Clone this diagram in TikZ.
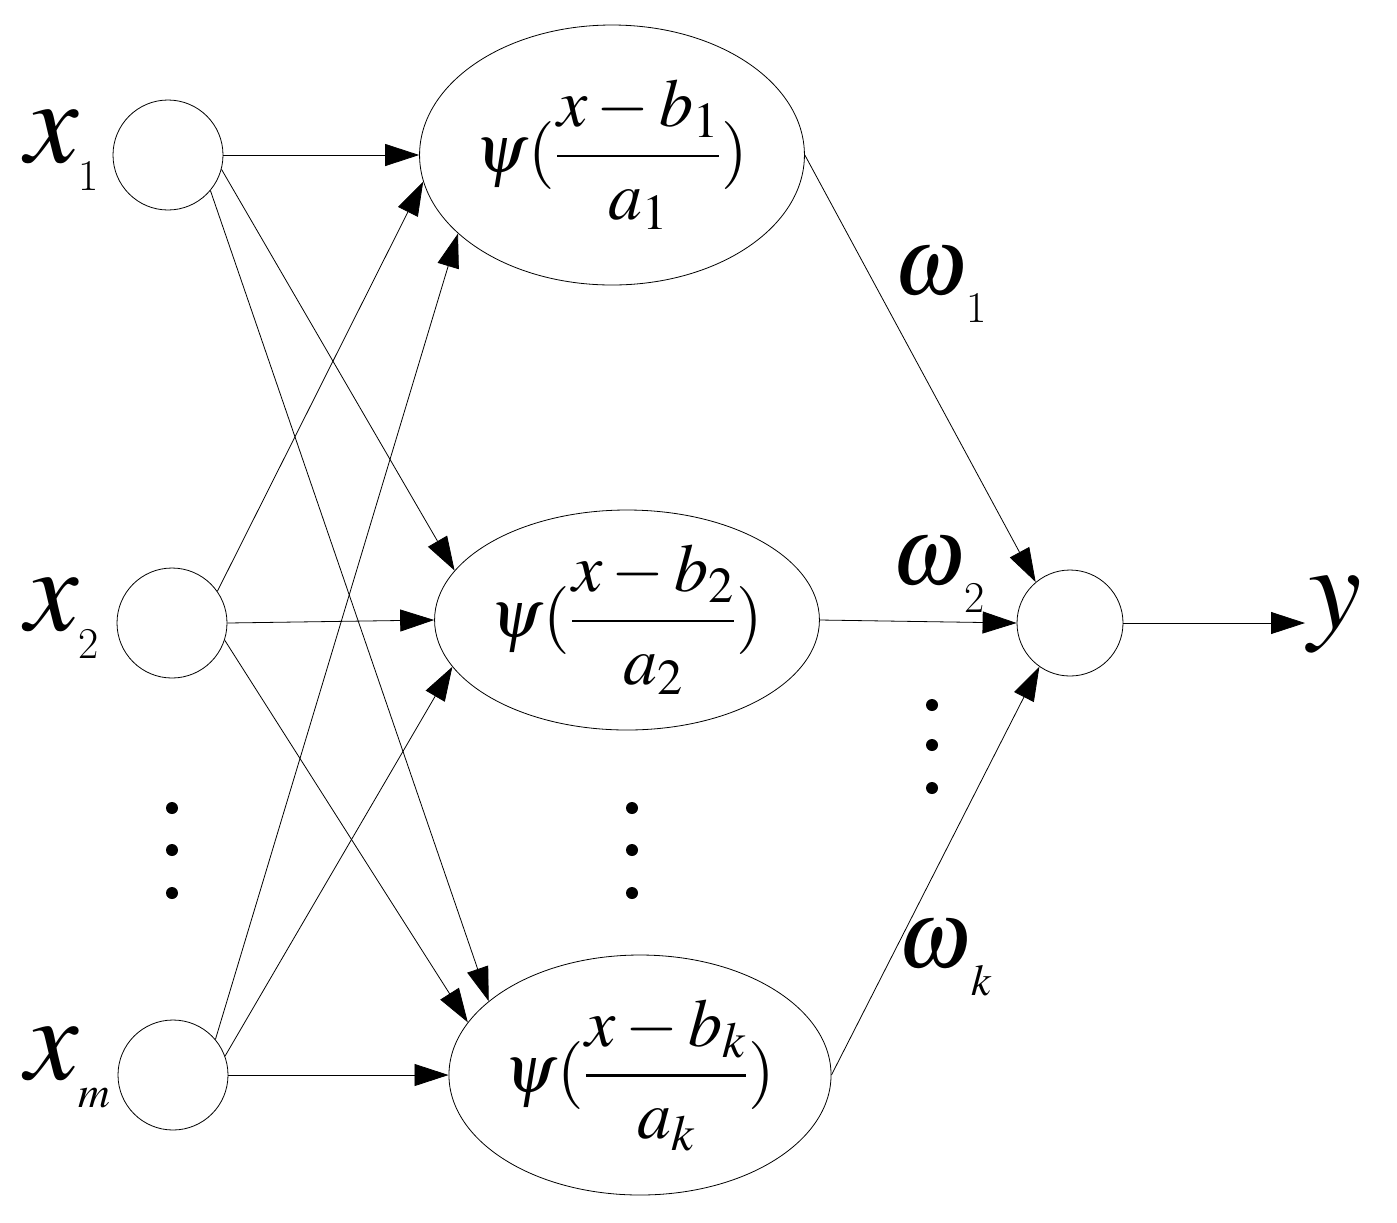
\documentclass[tikz,border=0pt]{standalone}
\usepackage{mathptmx}
\usetikzlibrary{arrows.meta,shapes.geometric}
\newcommand{\lab}[2]{$#1$\raisebox{-14pt}{\fontsize{22}{24}\selectfont #2}}
\begin{document}
\begin{tikzpicture}[x=0.5pt,y=-0.5pt,
 circ/.style={draw,circle,minimum size=55pt,inner sep=0pt},
 ell/.style={draw,ellipse,minimum width=178pt,inner sep=0pt},
 arr/.style={-{Triangle[length=17pt,width=11pt]},line width=0.4pt},
 big/.style={font=\fontsize{60}{66}\selectfont},
 om/.style={font=\fontsize{48}{54}\selectfont},
 mid/.style={font=\fontsize{34}{40}\selectfont}]
\useasboundingbox (0,0) rectangle (1397,1222);
\node[circ] (x1) at (168,155) {};
\node[circ] (x2) at (172,623) {};
\node[circ] (xm) at (173,1075) {};
\node[ell,minimum height=130pt,mid] (e1) at (612,155) {$\displaystyle\psi(\frac{x-b_1}{a_1})$};
\node[ell,minimum height=110pt,mid] (e2) at (627,620) {$\displaystyle\psi(\frac{x-b_2}{a_2})$};
\node[ell,minimum height=120pt,mid] (ek) at (640,1075) {$\displaystyle\psi(\frac{x-b_k}{a_k})$};
\node[circ,minimum size=53pt] (o) at (1070,623) {};
\coordinate (yend) at (1305,623);
\node[big] (yl) at (1335,615) {$y$};
\node[big] (l1) at (62,150) {\lab{x}{1}};
\node[big] (l2) at (62,618) {\lab{x}{2}};
\node[big] (lm) at (68,1068) {\lab{x}{$m$}};
\node[om] (w1) at (940,285) {\lab{\omega}{1}};
\node[om] (w2) at (938,575) {\lab{\omega}{2}};
\node[om] (wk) at (945,958) {\lab{\omega}{$k$}};
\draw[arr] (x1.0) -- (e1.180);
\draw[arr] (x1.-15) -- (e2.164);
\draw[arr] (x1.-40) -- (ek.154);
\draw[arr] (x2.35) -- (e1.188);
\draw[arr] (x2.0) -- (e2.180);
\draw[arr] (x2.-18) -- (ek.163);
\draw[arr] (xm.40) -- (e1.207);
\draw[arr] (xm.20) -- (e2.195);
\draw[arr] (xm.0) -- (ek.180);
\draw[arr] (e1.0) -- (o.130);
\draw[arr] (e2.0) -- (o.180);
\draw[arr] (ek.0) -- (o.235);
\draw[arr] (o) -- (yend);
\foreach \x/\ys in {172/{808,850,893},632/{808,850,893},932/{705,745,788}}
 \foreach \y in \ys {\fill (\x,\y) circle (3pt);}
\end{tikzpicture}
\end{document}
